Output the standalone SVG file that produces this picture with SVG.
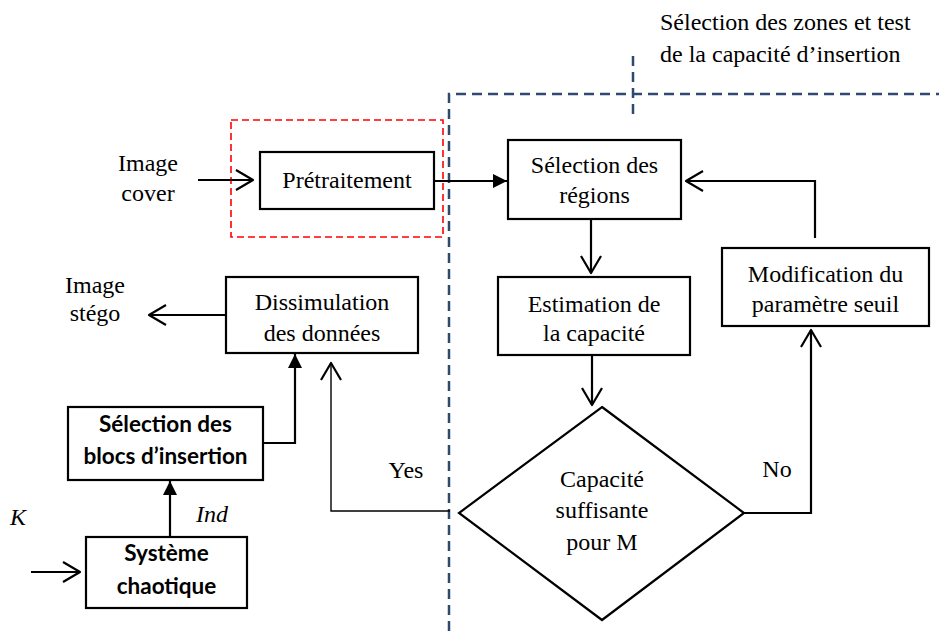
<svg xmlns="http://www.w3.org/2000/svg" width="939" height="631" viewBox="0 0 939 631">
<style>
.box{fill:#fff;stroke:#000;stroke-width:2.2}
.t{font-family:"Liberation Serif","Times New Roman",serif;font-size:24px;fill:#000;text-anchor:middle}
.b{font-family:Lato,"Liberation Sans",sans-serif;font-weight:bold;font-size:22.5px;fill:#000;text-anchor:middle}
.c{fill:none;stroke:#000;stroke-width:2.2}
.nav{fill:none;stroke:#2f4a6e;stroke-width:2.5;stroke-dasharray:10 6}
</style>
<defs>
<marker id="open" viewBox="-20 -12 22 24" refX="0" refY="0" markerWidth="22" markerHeight="24" markerUnits="userSpaceOnUse" orient="auto">
<path d="M-17,-10 L0,0 L-17,10" fill="none" stroke="#000" stroke-width="2.2" stroke-linejoin="round"/>
</marker>
<marker id="fill" viewBox="-16 -9 17 18" refX="0" refY="0" markerWidth="17" markerHeight="18" markerUnits="userSpaceOnUse" orient="auto">
<path d="M-14,-7 L0,0 L-14,7 Z" fill="#000"/>
</marker>
</defs>
<rect width="939" height="631" fill="#fff"/>

<g id="zones">
<path class="nav" d="M449,631 V94 H939"/>
<path class="nav" d="M633,56 V117"/>
<text class="t" x="660" y="30" style="text-anchor:start">Sélection des zones et test</text>
<text class="t" x="660" y="62" style="text-anchor:start">de la capacité d’insertion</text>
</g>

<g id="pretraitement-zone">
<rect x="231" y="120" width="212" height="117" fill="none" stroke="#ff0000" stroke-width="1.6" stroke-dasharray="7 4"/>
</g>

<g id="connectors">
<path class="c" d="M198,180 H253" marker-end="url(#open)"/>
<path class="c" d="M434,181 H507" marker-end="url(#fill)"/>
<path class="c" d="M591,219 V273" marker-end="url(#open)"/>
<path class="c" d="M592,355 V405" marker-end="url(#open)"/>
<path class="c" d="M732,513 H811 V330" marker-end="url(#open)"/>
<path class="c" d="M815,238 V181 H686" marker-end="url(#open)"/>
<path class="c" d="M450,511 H331 V363" style="stroke-width:1.4" marker-end="url(#open)"/>
<path class="c" d="M226,315 H149" marker-end="url(#open)"/>
<path class="c" d="M260,443 H295 V354" marker-end="url(#fill)"/>
<path class="c" d="M170,537 V481" marker-end="url(#fill)"/>
<path class="c" d="M31,572 H80" marker-end="url(#open)"/>
</g>

<g id="image-cover">
<text class="t" x="148" y="171">Image</text>
<text class="t" x="148" y="201">cover</text>
</g>

<g id="pretraitement">
<rect class="box" x="260" y="152" width="174" height="57"/>
<text class="t" x="347" y="188">Prétraitement</text>
</g>

<g id="selection-regions">
<rect class="box" x="508" y="140" width="173" height="79"/>
<text class="t" x="594.5" y="173">Sélection des</text>
<text class="t" x="594.5" y="203">régions</text>
</g>

<g id="estimation">
<rect class="box" x="498" y="277" width="192" height="78"/>
<text class="t" x="594" y="312">Estimation de</text>
<text class="t" x="594" y="341">la capacité</text>
</g>

<g id="modification">
<rect class="box" x="722" y="248" width="207" height="78"/>
<text class="t" x="825.5" y="282">Modification du</text>
<text class="t" x="825.5" y="312">paramètre seuil</text>
</g>

<g id="capacite">
<path class="box" d="M602,407 L744,513 L602,620 L459,513 Z"/>
<text class="t" x="602" y="487">Capacité</text>
<text class="t" x="602" y="518">suffisante</text>
<text class="t" x="602" y="550">pour M</text>
</g>

<g id="dissimulation">
<rect class="box" x="226" y="277" width="192" height="76"/>
<text class="t" x="322" y="310">Dissimulation</text>
<text class="t" x="322" y="341">des données</text>
</g>

<g id="image-stego">
<text class="t" x="95" y="293">Image</text>
<text class="t" x="95" y="321">stégo</text>
</g>

<g id="selection-blocs">
<rect class="box" x="68" y="407" width="195" height="73"/>
<text class="b" x="165.5" y="432">Sélection des</text>
<text class="b" x="165.5" y="464">blocs d’insertion</text>
</g>

<g id="systeme-chaotique">
<rect class="box" x="86" y="537" width="161" height="71"/>
<text class="b" x="166.5" y="561">Système</text>
<text class="b" x="166.5" y="594">chaotique</text>
</g>

<g id="labels">
<text class="t" x="406" y="478">Yes</text>
<text class="t" x="777" y="477">No</text>
<text class="t" x="212" y="522" font-style="italic">Ind</text>
<text class="t" x="18" y="525" font-style="italic">K</text>
</g>
</svg>
